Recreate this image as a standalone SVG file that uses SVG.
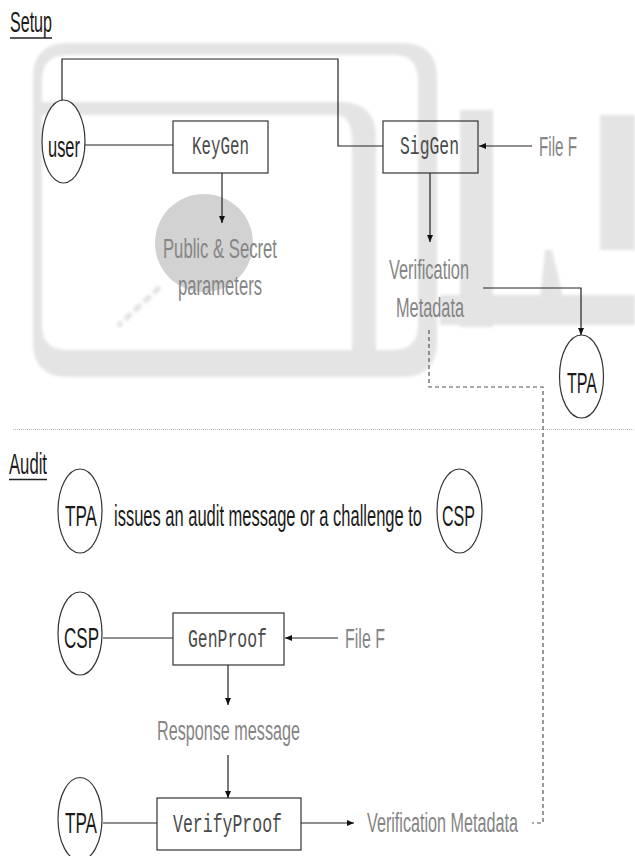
<svg xmlns="http://www.w3.org/2000/svg" width="635" height="856" viewBox="0 0 635 856">
<style>
.wm{fill:#e4e4e4;}
.node{fill:#fff;stroke:#333;stroke-width:1.2;}
.box{fill:none;stroke:#333;stroke-width:1.2;}
.ln{fill:none;stroke:#222;stroke-width:1.2;}
.dash{fill:none;stroke:#555;stroke-width:1.2;stroke-dasharray:4 3;}
.t{font-family:"Liberation Sans",Arial,sans-serif;font-size:29px;fill:#1a1a1a;}
.g{font-family:"Liberation Sans",Arial,sans-serif;font-size:27px;fill:#858585;}
.m{font-family:"Liberation Mono","Courier New",monospace;font-size:26px;fill:#4a4a4a;}
</style>
<defs>
<marker id="arr" markerUnits="userSpaceOnUse" markerWidth="8" markerHeight="6" refX="7" refY="3" orient="auto">
<path d="M0,0 L7,3 L0,6 Z" fill="#111"/>
</marker>
<filter id="soft" x="-5%" y="-5%" width="110%" height="110%"><feGaussianBlur stdDeviation="1.6"/></filter>
</defs>

<g id="watermark" filter="url(#soft)">
<path class="wm" fill-rule="evenodd" d="M68,43 H402 Q437,43 437,78 V342 Q437,377 402,377 H68 Q33,377 33,342 V78 Q33,43 68,43 Z M67,55 H393 Q418,55 418,80 V325 Q418,350 393,350 H67 Q42,350 42,325 V80 Q42,55 67,55 Z"/>
<path class="wm" d="M42,102 H340 Q376,102 376,138 V350 H352 V140 Q352,115 335,115 H42 Z"/>
<rect class="wm" x="460" y="110" width="33" height="217"/>
<rect class="wm" x="440" y="295" width="195" height="30"/>
<rect class="wm" x="600" y="115" width="35" height="135"/>
<polygon class="wm" points="540,297 563,297 552,250 545,250"/>
<line x1="160" y1="287" x2="118" y2="326" stroke="#e2e2e2" stroke-width="5" stroke-dasharray="9 4"/>
</g>
<circle id="magnifier" cx="204" cy="243" r="49" fill="#d2d2d2"/>

<g id="titles">
<text class="t" x="10" y="32" font-size="26" textLength="42" lengthAdjust="spacingAndGlyphs">Setup</text>
<line x1="10" y1="38" x2="52" y2="38" stroke="#222" stroke-width="1.5"/>
<text class="t" x="9" y="474" font-size="28" textLength="38" lengthAdjust="spacingAndGlyphs">Audit</text>
<line x1="9" y1="479.5" x2="47" y2="479.5" stroke="#222" stroke-width="1.5"/>
</g>

<line id="separator" x1="13" y1="429.5" x2="635" y2="429.5" stroke="#bbb" stroke-width="1" stroke-dasharray="1 1"/>

<g id="connectors">
<path class="ln" d="M62,100 V59 H338 V146 H383"/>
<path class="ln" d="M85,145 H173"/>
<path class="ln" d="M222,173 V223" marker-end="url(#arr)"/>
<path class="ln" d="M532,146 H479" marker-end="url(#arr)"/>
<path class="ln" d="M430,173 V242" marker-end="url(#arr)"/>
<path class="ln" d="M483,288 H581 V335" marker-end="url(#arr)"/>
<path class="dash" d="M429,330 V387 H543 V823 H532"/>
<path class="ln" d="M103,638 H173"/>
<path class="ln" d="M338,638 H285" marker-end="url(#arr)"/>
<path class="ln" d="M228,665 V705" marker-end="url(#arr)"/>
<path class="ln" d="M228,755 V798" marker-end="url(#arr)"/>
<path class="ln" d="M103,823 H157"/>
<path class="ln" d="M301,823 H354" marker-end="url(#arr)"/>
</g>

<g id="user">
<ellipse class="node" cx="63.5" cy="141.5" rx="21.5" ry="41.5"/>
<text class="t" x="64" y="157" font-size="32" text-anchor="middle" textLength="32" lengthAdjust="spacingAndGlyphs">user</text>
</g>
<g id="keygen">
<rect class="box" x="173" y="121" width="95" height="52"/>
<text class="m" x="220.5" y="154" text-anchor="middle" textLength="57" lengthAdjust="spacingAndGlyphs">KeyGen</text>
</g>
<g id="sigen">
<rect class="box" x="383" y="121" width="95" height="52"/>
<text class="m" x="429.5" y="154" text-anchor="middle" textLength="59" lengthAdjust="spacingAndGlyphs">SigGen</text>
</g>
<g id="filef-setup">
<text class="g" x="539" y="156" font-size="29" textLength="38" lengthAdjust="spacingAndGlyphs">File F</text>
</g>
<g id="params">
<text class="g" x="220" y="258" text-anchor="middle" fill="#8c8c8c" textLength="114" lengthAdjust="spacingAndGlyphs">Public &amp; Secret</text>
<text class="g" x="220" y="295" text-anchor="middle" fill="#8c8c8c" textLength="84" lengthAdjust="spacingAndGlyphs">parameters</text>
</g>
<g id="verif-setup">
<text class="g" x="429" y="279" text-anchor="middle" font-size="29" textLength="80" lengthAdjust="spacingAndGlyphs">Verification</text>
<text class="g" x="430" y="317" text-anchor="middle" font-size="29" textLength="68" lengthAdjust="spacingAndGlyphs">Metadata</text>
</g>
<g id="tpa-setup">
<ellipse class="node" cx="581.5" cy="376.5" rx="22" ry="41.5"/>
<text class="t" x="582" y="393" text-anchor="middle" textLength="30" lengthAdjust="spacingAndGlyphs">TPA</text>
</g>

<g id="tpa-audit">
<ellipse class="node" cx="80" cy="511" rx="22" ry="42"/>
<text class="t" x="81" y="526" text-anchor="middle" textLength="32" lengthAdjust="spacingAndGlyphs">TPA</text>
</g>
<g id="challenge">
<text class="t" transform="translate(114,526) scale(0.569,1)" x="0" y="0">issues an audit message or a challenge to</text>
</g>
<g id="csp-audit">
<ellipse class="node" cx="459.5" cy="511" rx="22.5" ry="42"/>
<text class="t" x="458.5" y="526" text-anchor="middle" textLength="33" lengthAdjust="spacingAndGlyphs">CSP</text>
</g>
<g id="csp">
<ellipse class="node" cx="80" cy="633.5" rx="22" ry="41.5"/>
<text class="t" x="81.5" y="648" text-anchor="middle" textLength="35" lengthAdjust="spacingAndGlyphs">CSP</text>
</g>
<g id="genproof">
<rect class="box" x="173" y="613" width="111" height="52"/>
<text class="m" x="227.5" y="647" text-anchor="middle" textLength="79" lengthAdjust="spacingAndGlyphs">GenProof</text>
</g>
<g id="filef-audit">
<text class="g" x="345" y="648" font-size="29" textLength="40" lengthAdjust="spacingAndGlyphs">File F</text>
</g>
<g id="response">
<text class="g" x="228.5" y="740" text-anchor="middle" font-size="26" textLength="143" lengthAdjust="spacingAndGlyphs">Response message</text>
</g>
<g id="tpa-verify">
<ellipse class="node" cx="80" cy="819" rx="22" ry="41.5"/>
<text class="t" x="81" y="833" text-anchor="middle" textLength="32" lengthAdjust="spacingAndGlyphs">TPA</text>
</g>
<g id="verifyproof">
<rect class="box" x="157" y="798" width="144" height="52"/>
<text class="m" x="227.5" y="832" text-anchor="middle" textLength="109" lengthAdjust="spacingAndGlyphs">VerifyProof</text>
</g>
<g id="verif-audit">
<text class="g" x="367" y="832" textLength="151" lengthAdjust="spacingAndGlyphs">Verification Metadata</text>
</g>
</svg>
